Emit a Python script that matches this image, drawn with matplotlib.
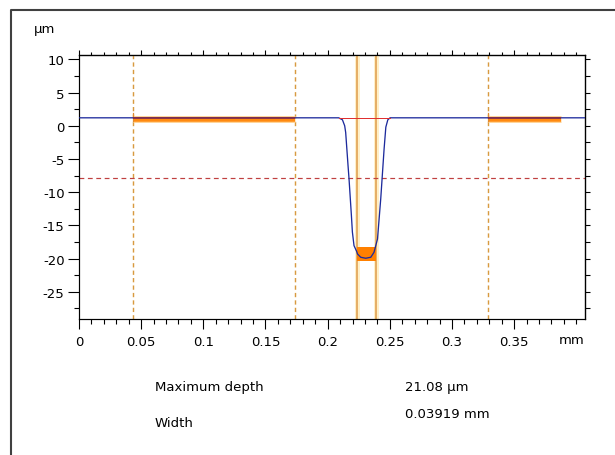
import matplotlib
matplotlib.use("Agg")
import matplotlib.pyplot as plt
from matplotlib.ticker import MultipleLocator, NullFormatter
from matplotlib.lines import Line2D
from matplotlib.patches import Rectangle
import matplotlib.transforms as mtransforms

plt.rcParams['font.family'] = ['DejaVu Sans']

# ---- data ----
profile_x = [0.0, 0.2089, 0.2119, 0.2137, 0.2145, 0.2164, 0.2172, 0.2191, 0.2199, 0.2212,
             0.2234, 0.2240, 0.2266, 0.2306, 0.2347, 0.2373, 0.2401, 0.2427, 0.2454,
             0.2468, 0.2484, 0.2502, 0.408]
profile_y = [1.2, 1.2, 0.9, 0.0, -1.0, -6.0, -8.0, -13.5, -16.0, -18.05,
             -18.95, -19.3, -19.8, -19.95, -19.8, -19.05, -17.05, -11.0, -3.5,
             -0.2, 0.9, 1.2, 1.2]
dashed_vlines = [0.0435, 0.1734, 0.329]
solid_vlines = [0.2234, 0.2387]
ref_segments = [(0.0435, 0.1734), (0.329, 0.388)]
ref_level = 1.0
groove_top = (0.2089, 0.2502)
threshold_y = -7.8
bottom_box_y = (-20.3, -18.3)
xticks = [0, 0.05, 0.1, 0.15, 0.2, 0.25, 0.3, 0.35]
xticklabels = ['0', '0.05', '0.1', '0.15', '0.2', '0.25', '0.3', '0.35']
yticks = [10, 5, 0, -5, -10, -15, -20, -25]
results_labels = ['Maximum depth', 'Width']
results_values = ['21.08 µm', '0.03919 mm']

W, H = 615, 456
fig = plt.figure(figsize=(W / 100, H / 100), dpi=100)
fig.patch.set_facecolor('white')

# outer frame (left and top edges visible)
fx = 11 / W
fy = 1 - 11 / H
fig.add_artist(Line2D([fx, fx, 1.01], [-0.01, fy, fy], transform=fig.transFigure,
                      color='#404040', lw=1.5))

left, right, top, bottom = 79, 585, 56, 320
ax = fig.add_axes([left / W, 1 - bottom / H, (right - left) / W, (bottom - top) / H])
ax.set_xlim(0, 0.407)
ax.set_ylim(-29.1, 10.66)

px = 0.72  # points per pixel

# dashed vertical lines
for xv in dashed_vlines:
    ax.axvline(xv, color='#d89a40', lw=1.3 * px * 1.1, ls=(0, (3.0, 2.2)), zorder=1)
# solid vertical lines with pale halo
for xv in solid_vlines:
    ax.axvline(xv, color='#fff0c8', lw=5 * px, zorder=1)
    ax.axvline(xv, color='#e0a050', lw=1.6 * px, zorder=2)

# threshold dashed line
ax.axhline(threshold_y, color='#c04040', lw=1.2 * px, ls=(0, (4.0, 3.0)), zorder=2)

# reference segments
for (a, b) in ref_segments:
    ax.plot([a, b], [ref_level + 0.05, ref_level + 0.05], color='#ffd59a', lw=7 * px,
            solid_capstyle='butt', zorder=2)
    ax.plot([a, b], [ref_level - 0.15, ref_level - 0.15], color='#ff8a10', lw=3.5 * px,
            solid_capstyle='butt', zorder=2)
    ax.plot([a, a], [ref_level - 0.3, ref_level + 0.9], color='#e08a30', lw=1.2 * px, zorder=2)

# bottom marker box
ax.add_patch(Rectangle((solid_vlines[0], bottom_box_y[0]),
                       solid_vlines[1] - solid_vlines[0],
                       bottom_box_y[1] - bottom_box_y[0],
                       facecolor='#ff8000', edgecolor='none', zorder=3))

# profile
ax.plot(profile_x, profile_y, color='#1c2a9c', lw=1.3 * px, zorder=4)

# dark overlay on the reference segments (blue+orange blend)
for (a, b) in ref_segments:
    ax.plot([a, b], [1.2, 1.2], color='#8a2a40', lw=1.6 * px, solid_capstyle='butt', zorder=5)

# red line across groove top
ax.plot(list(groove_top), [1.2, 1.2], color='#e03030', lw=1.0 * px, zorder=5)

# axes styling
for s in ax.spines.values():
    s.set_color('black')
    s.set_linewidth(1.2 * px)

fs = 9.5
ax.set_xticks(xticks)
ax.set_xticklabels(xticklabels, fontsize=fs)
ax.xaxis.set_minor_locator(MultipleLocator(0.01))
ax.set_yticks(yticks)
ax.set_yticklabels([str(v) for v in yticks], fontsize=fs)
ax.yaxis.set_minor_locator(MultipleLocator(2.5))
ax.tick_params(axis='x', which='major', direction='out', length=10 * px, width=1.1 * px, pad=4.5)
ax.tick_params(axis='x', which='minor', direction='out', length=5 * px, width=1.1 * px)
ax.tick_params(axis='y', which='major', direction='out', length=11 * px, width=1.1 * px, pad=2.5)
ax.tick_params(axis='y', which='minor', direction='out', length=5.5 * px, width=1.1 * px)

# top ticks
sx = ax.secondary_xaxis('top')
sx.set_xticks(xticks)
sx.xaxis.set_major_formatter(NullFormatter())
sx.xaxis.set_minor_locator(MultipleLocator(0.01))
sx.tick_params(which='major', direction='out', length=5 * px, width=1.1 * px)
sx.tick_params(which='minor', direction='out', length=3 * px, width=1.1 * px)
sx.spines['top'].set_linewidth(1.2 * px)

# right ticks
sy = ax.secondary_yaxis('right')
sy.yaxis.set_major_locator(MultipleLocator(2.5))
sy.yaxis.set_major_formatter(NullFormatter())
sy.tick_params(which='major', direction='out', length=5 * px, width=1.1 * px)
sy.spines['right'].set_linewidth(1.2 * px)

# unit labels
trans = mtransforms.blended_transform_factory(ax.transData, fig.transFigure)
fig.text(45 / W, 1 - 30 / H, 'µm', fontsize=fs, ha='center', va='center')
ax.text(0.396, 1 - 341 / H, 'mm', transform=trans, fontsize=fs, ha='center', va='center')

# results table
fig.text(155 / W, 1 - 387 / H, results_labels[0], fontsize=fs, ha='left', va='center')
fig.text(155 / W, 1 - 424 / H, results_labels[1], fontsize=fs, ha='left', va='center')
fig.text(405 / W, 1 - 387 / H, results_values[0], fontsize=fs, ha='left', va='center')
fig.text(405 / W, 1 - 414 / H, results_values[1], fontsize=fs, ha='left', va='center')

fig.savefig('out.png', dpi=100, facecolor='white')
